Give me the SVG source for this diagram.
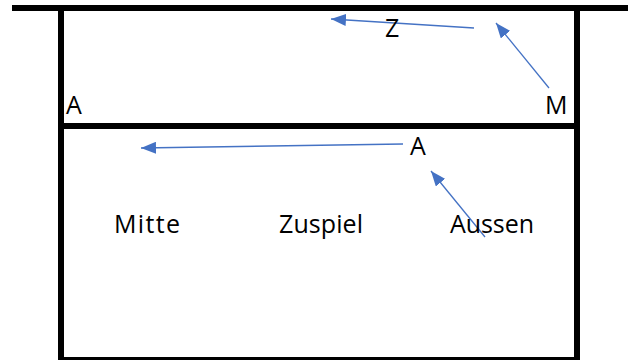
<svg xmlns="http://www.w3.org/2000/svg" width="630" height="360" viewBox="0 0 630 360">
  <style>
    .wall { stroke: #000; stroke-width: 6; fill: none; }
    .arr { stroke: #4472C4; stroke-width: 1.3; fill: none; marker-end: url(#ah); }
    .lbl { font-family: "Open Sans", "Liberation Sans", sans-serif; font-size: 25px; fill: #000; }
  </style>
  <defs>
    <marker id="ah" markerUnits="userSpaceOnUse" markerWidth="16" markerHeight="12" refX="15" refY="6" orient="auto">
      <path d="M0,0 L15,6 L0,12 z" fill="#4472C4"/>
    </marker>
  </defs>
  <rect width="630" height="360" fill="#fff"/>
  <g id="court">
    <line class="wall" x1="12" y1="8" x2="628" y2="8"/>
    <line class="wall" x1="61" y1="8" x2="61" y2="363"/>
    <line class="wall" x1="577" y1="8" x2="577" y2="363"/>
    <line class="wall" x1="58" y1="126" x2="580" y2="126"/>
    <line class="wall" x1="58" y1="360" x2="580" y2="360"/>
  </g>
  <g id="connectors">
    <line class="arr" x1="474" y1="28" x2="331" y2="19"/>
    <line class="arr" x1="549" y1="88" x2="496" y2="23"/>
    <line class="arr" x1="403" y1="144" x2="141" y2="148"/>
    <line class="arr" x1="485" y1="237" x2="431" y2="171"/>
  </g>
  <g id="node-Z"><text class="lbl" x="385" y="37">Z</text></g>
  <g id="node-A-top"><text class="lbl" x="66" y="114">A</text></g>
  <g id="node-M"><text class="lbl" x="545" y="114">M</text></g>
  <g id="node-A-mid"><text class="lbl" x="410" y="155">A</text></g>
  <g id="node-Mitte"><text class="lbl" x="114" y="233" textLength="66">Mitte</text></g>
  <g id="node-Zuspiel"><text class="lbl" x="279" y="233" textLength="84">Zuspiel</text></g>
  <g id="node-Aussen"><text class="lbl" x="450" y="233" textLength="84">Aussen</text></g>
</svg>
